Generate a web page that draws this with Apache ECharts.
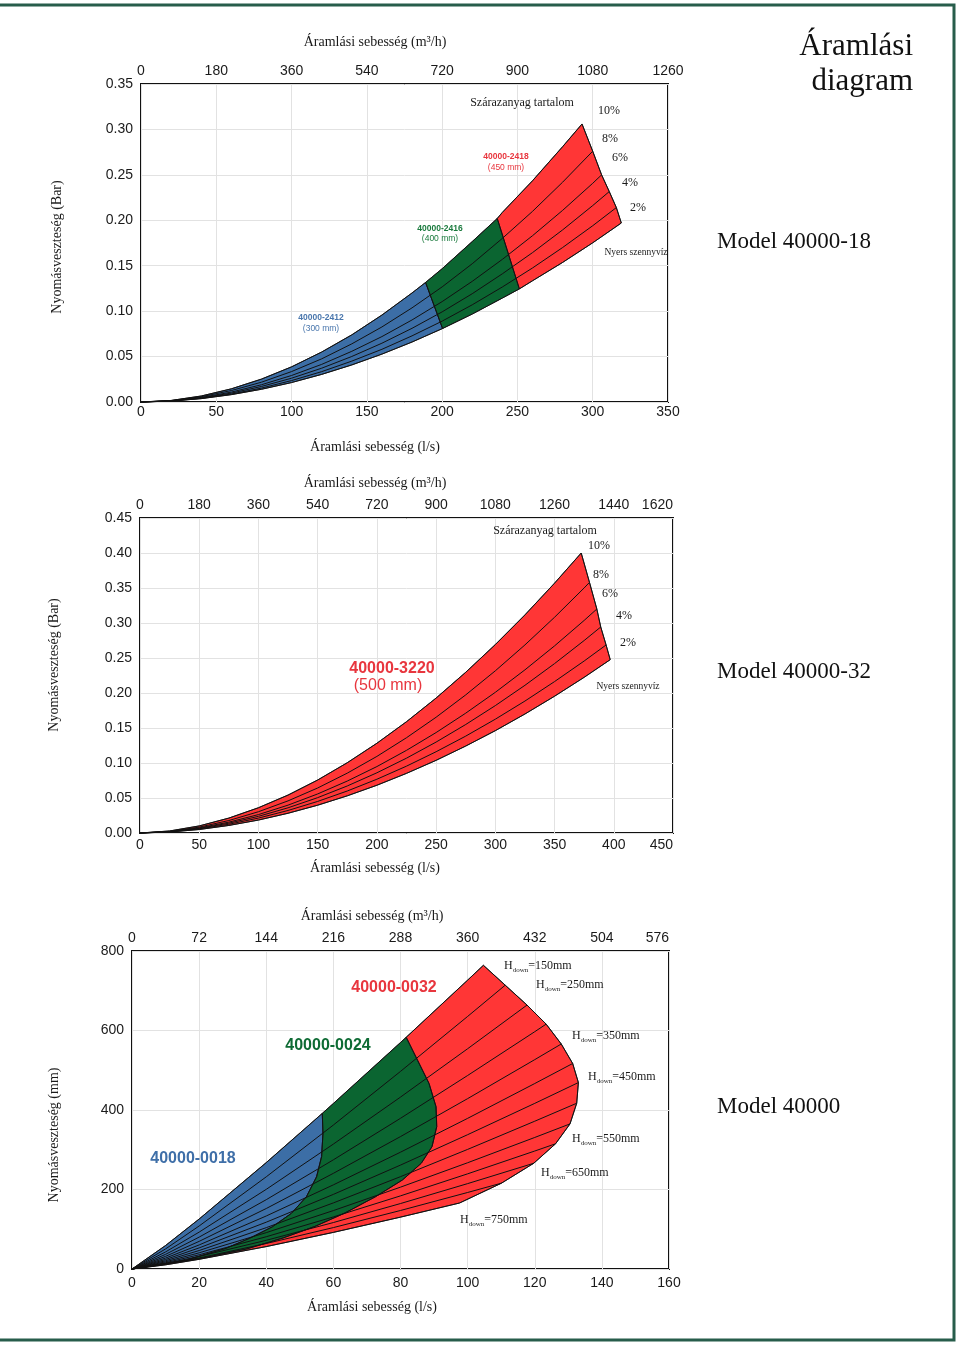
<!DOCTYPE html>
<html><head><meta charset="utf-8">
<script src="https://cdn.jsdelivr.net/npm/echarts@6/dist/echarts.min.js"></script>
<style>html,body{margin:0;padding:0;background:#fff}#c{width:960px;height:1345px}</style>
</head><body><div id="c"></div>
<script>
// ---------- Panel 1 : Model 40000-18 (x: l/s, y: bar) ----------
const p1Nyers = [[0,0],[20,0.0010],[40,0.0037],[60,0.0081],[80,0.0140],[100,0.0214],[120,0.0304],[140,0.0408],[160,0.0527],[180,0.0660],[200.3,0.0809],[220,0.0968],[240,0.1144],[251.3,0.1245],[260,0.1334],[280,0.1536],[300,0.1752],[319,0.197]];
const p1Pct2 = [[0,0],[20,0.0011],[40,0.0041],[60,0.0088],[80,0.0153],[100,0.0236],[120,0.0334],[140,0.0450],[160,0.0580],[180,0.0728],[200,0.0890],[220,0.1070],[240,0.1266],[260,0.1475],[280,0.1700],[300,0.1940],[315.7,0.214]];
const p1Pct4 = [[0,0],[20,0.0012],[40,0.0045],[60,0.0098],[80,0.0171],[100,0.0262],[120,0.0372],[140,0.0501],[160,0.0647],[180,0.0811],[200,0.0992],[220,0.1192],[240,0.1411],[260,0.1644],[280,0.1894],[300,0.2162],[311,0.2316]];
const p1Pct6 = [[0,0],[20,0.0013],[40,0.0050],[60,0.0109],[80,0.0190],[100,0.0292],[120,0.0414],[140,0.0558],[160,0.0720],[180,0.0903],[200,0.1105],[220,0.1328],[240,0.1570],[260,0.1830],[280,0.2109],[300,0.2407],[305.9,0.250]];
const p1Pct8 = [[0,0],[20,0.0015],[40,0.0058],[60,0.0126],[80,0.0218],[100,0.0335],[120,0.0475],[140,0.0640],[160,0.0826],[180,0.1036],[200,0.1267],[220,0.1522],[240,0.1801],[260,0.2098],[280,0.2419],[300,0.276]];
const p1Pct10 = [[0,0],[20,0.0017],[40,0.0066],[60,0.0145],[80,0.0252],[100,0.0387],[120,0.0550],[140,0.0739],[160,0.0957],[180,0.1200],[189,0.1316],[200,0.1467],[220,0.1766],[236.6,0.202],[240,0.2087],[260,0.2435],[280,0.2810],[292.9,0.306]];
const p1Split1 = [[189,0.1316],[200.3,0.0809]];   // 40000-2412 | 40000-2416
const p1Split2 = [[236.6,0.202],[251.3,0.1245]];  // 40000-2416 | 40000-2418

// ---------- Panel 2 : Model 40000-32 ----------
const p2Nyers = [[0,0],[25,0.0014],[50,0.0050],[75,0.0108],[100,0.0185],[125,0.0282],[150,0.0397],[175,0.0531],[200,0.0682],[225,0.0852],[250,0.1038],[275,0.1242],[300,0.1462],[325,0.1700],[350,0.1954],[375,0.2224],[397,0.2476]];
const p2Pct2 = [[0,0],[25,0.0016],[50,0.0059],[75,0.0125],[100,0.0213],[125,0.0322],[150,0.0451],[175,0.0600],[200,0.0768],[225,0.0955],[250,0.1161],[275,0.1384],[300,0.1626],[325,0.1885],[350,0.2163],[375,0.2457],[393.5,0.2686]];
const p2Pct4 = [[0,0],[25,0.0018],[50,0.0066],[75,0.0140],[100,0.0238],[125,0.0360],[150,0.0505],[175,0.0672],[200,0.0860],[225,0.1069],[250,0.1299],[275,0.1550],[300,0.1820],[325,0.2110],[350,0.2420],[375,0.2750],[389,0.2943]];
const p2Pct6 = [[0,0],[25,0.0020],[50,0.0073],[75,0.0155],[100,0.0263],[125,0.0398],[150,0.0558],[175,0.0742],[200,0.0949],[225,0.1181],[250,0.1435],[275,0.1712],[300,0.2010],[325,0.2331],[350,0.2673],[375,0.3037],[385.7,0.320]];
const p2Pct8 = [[0,0],[25,0.0023],[50,0.0084],[75,0.0178],[100,0.0304],[125,0.0459],[150,0.0643],[175,0.0855],[200,0.1094],[225,0.1361],[250,0.1654],[275,0.1973],[300,0.2317],[325,0.2687],[350,0.3082],[375,0.3501],[379.5,0.358]];
const p2Pct10 = [[0,0],[25,0.0029],[50,0.0101],[75,0.0213],[100,0.0361],[125,0.0542],[150,0.0757],[175,0.1004],[200,0.1282],[225,0.1590],[250,0.1928],[275,0.2296],[300,0.2692],[325,0.3116],[350,0.3569],[372.5,0.400]];

// ---------- Panel 3 : Model 40000 (x: l/s, y: mm) ----------
const p3H150 = [[0,0],[10,59.1],[20,125.7],[40,267.7],[56.7,391.5],[60,416.4],[80,569.8],[81.7,583],[100,726.7],[104.7,764]];
const p3H200 = [[0,0],[10,50.5],[20,108.2],[40,231.9],[60,362.2],[80,497.1],[100,635.4],[111.2,714]];
const p3H250 = [[0,0],[10,43.0],[20,92.8],[40,200.4],[60,314.3],[80,432.5],[100,554.1],[117.7,664]];
const p3H300 = [[0,0],[10,36.9],[20,80.2],[40,174.4],[60,274.7],[80,379.1],[100,486.8],[120,597.0],[123.4,616]];
const p3H350 = [[0,0],[10,31.8],[20,69.5],[40,152.2],[60,240.7],[80,333.1],[100,428.6],[120,526.7],[127.9,566]];
const p3H400 = [[0,0],[10,27.5],[20,60.5],[40,133.4],[60,211.7],[80,293.9],[100,379.0],[120,466.6],[131.3,517]];
const p3H450 = [[0,0],[10,23.9],[20,53.1],[40,117.8],[60,187.7],[80,261.4],[100,337.9],[120,416.7],[133.0,469]];
const p3H500 = [[0,0],[10,20.8],[20,46.5],[40,104.0],[60,166.3],[80,232.3],[100,300.9],[120,371.8],[132.5,417]];
const p3H550 = [[0,0],[10,18.1],[20,40.7],[40,91.5],[60,147.0],[80,205.9],[100,267.3],[120,330.9],[130.5,365]];
const p3H600 = [[0,0],[10,15.8],[20,35.8],[40,81.2],[60,131.0],[80,184.0],[100,239.4],[120,296.8],[126.2,315]];
const p3H650 = [[0,0],[10,13.9],[20,31.6],[40,72.2],[60,116.9],[80,164.7],[100,214.8],[119.7,266]];
const p3H700 = [[0,0],[10,12.1],[20,27.9],[40,64.1],[60,104.2],[80,147.2],[100,192.5],[110.1,216]];
const p3H750 = [[0,0],[10,10.5],[20,24.4],[40,56.4],[60,92.1],[80,130.5],[97.6,166]];
const p3Arc18 = [[56.7,391.5],[56.9,341],[56.5,283],[55,232],[52,182],[47.5,140],[41.8,106],[35,77],[28,52],[16,22],[0,0]];
const p3Arc24 = [[81.7,583],[85.1,525],[88.5,467],[90.6,408],[90.8,358],[89.4,308],[86.2,266],[80.6,224],[72.6,182],[63.5,141],[54.5,107],[45,78],[34,50],[20,26],[0,0]];

const hDownLabels = ['150','250','350','450','550','650','750'];

// ---------- helpers ----------
const BLUE = '#3c6ea6', GREEN = '#0b6531', RED = '#ff3636';
function region(top, bottom, leftEdge, rightEdge) {
  const xlT = leftEdge[0][0], xrT = rightEdge[0][0];
  const xlB = leftEdge[leftEdge.length - 1][0], xrB = rightEdge[rightEdge.length - 1][0];
  const pts = [leftEdge[0]];
  top.forEach(p => { if (p[0] > xlT && p[0] < xrT) pts.push(p); });
  rightEdge.forEach(p => pts.push(p));
  bottom.slice().reverse().forEach(p => { if (p[0] > xlB && p[0] < xrB) pts.push(p); });
  leftEdge.slice(1).reverse().forEach(p => pts.push(p));
  return pts;
}
const ends = curves => curves.map(c => c[c.length - 1]);
const O = [[0, 0]];

const p1Curves = [p1Pct10, p1Pct8, p1Pct6, p1Pct4, p1Pct2, p1Nyers];
const p1End = ends(p1Curves);
const p1Shapes = [
  {kind:'polygon', color:BLUE, pts:region(p1Pct10, p1Nyers, O, p1Split1)},
  {kind:'polygon', color:GREEN, pts:region(p1Pct10, p1Nyers, p1Split1, p1Split2)},
  {kind:'polygon', color:RED, pts:region(p1Pct10, p1Nyers, p1Split2, p1End)},
  ...p1Curves.map(c => ({kind:'polyline', pts:c})),
  {kind:'polyline', pts:p1Split1}, {kind:'polyline', pts:p1Split2}, {kind:'polyline', pts:p1End}
];

const p2Curves = [p2Pct10, p2Pct8, p2Pct6, p2Pct4, p2Pct2, p2Nyers];
const p2End = ends(p2Curves);
const p2Shapes = [
  {kind:'polygon', color:RED, pts:region(p2Pct10, p2Nyers, O, p2End)},
  ...p2Curves.map(c => ({kind:'polyline', pts:c})),
  {kind:'polyline', pts:p2End}
];

const p3Curves = [p3H150,p3H200,p3H250,p3H300,p3H350,p3H400,p3H450,p3H500,p3H550,p3H600,p3H650,p3H700,p3H750];
const p3End = ends(p3Curves);
const p3Shapes = [
  {kind:'polygon', color:BLUE, pts:region(p3H150, p3H750, O, p3Arc18)},
  {kind:'polygon', color:GREEN, pts:region(p3H150, p3H750, p3Arc18, p3Arc24)},
  {kind:'polygon', color:RED, pts:region(p3H150, p3H750, p3Arc24, p3End)},
  ...p3Curves.map(c => ({kind:'polyline', pts:c})),
  {kind:'polyline', pts:p3Arc18}, {kind:'polyline', pts:p3Arc24}, {kind:'polyline', pts:p3End}
];

function shapeSeries(gi, shapes) {
  return {
    type:'custom', coordinateSystem:'cartesian2d', xAxisIndex: gi * 2, yAxisIndex: gi,
    silent:true, animation:false, data: shapes.map(() => [0, 0]),
    renderItem: (params, api) => {
      const s = shapes[params.dataIndex];
      const pts = s.pts.map(p => api.coord(p));
      if (s.kind === 'polygon') return {type:'polygon', shape:{points:pts}, style:{fill:s.color, stroke:'#1d1d1d', lineWidth:0.8}};
      return {type:'polyline', shape:{points:pts}, style:{fill:'none', stroke:'#111', lineWidth:1}};
    }
  };
}

const SANS = 'Liberation Sans', SERIF = 'Liberation Serif';
const plain = v => String(v);
const lab = (extra) => Object.assign({fontFamily:SANS, fontSize:14, color:'#1a1a1a', formatter: plain}, extra);
function xAxes(gi, max, interval, topMax, topInt, alignBottom, alignTop, bMargin) {
  const b = {margin:bMargin};
  if (alignBottom) b.alignMaxLabel = 'right';
  const t = {margin:6};
  if (alignTop) t.alignMaxLabel = 'right';
  return [
    {type:'value', gridIndex:gi, position:'bottom', min:0, max:max, interval:interval,
     axisLine:{show:false}, axisTick:{show:false},
     splitLine:{show:true, lineStyle:{color:'#e2e2e2', width:1}},
     axisLabel:lab(b)},
    {type:'value', gridIndex:gi, position:'top', min:0, max:topMax, interval:topInt,
     axisLine:{show:false}, axisTick:{show:false}, splitLine:{show:false},
     axisLabel:lab(t)}
  ];
}
function yAxis(gi, max, interval, dec) {
  return {type:'value', gridIndex:gi, min:0, max:max, interval:interval,
    axisLine:{show:false}, axisTick:{show:false},
    splitLine:{show:true, lineStyle:{color:'#e2e2e2', width:1}},
    axisLabel:lab({margin:8, padding:[0,0,4,0], formatter: v => v.toFixed(dec)})};
}

function txt(x, y, text, font, fill, align, extra) {
  return {type:'text', x:x, y:y, silent:true, z:100,
    style:Object.assign({text:text, font:font, fill:fill, align:align || 'center', verticalAlign:'middle'}, extra || {})};
}
function vtxt(x, y, text) {
  return {type:'text', x:x, y:y, rotation:Math.PI/2, silent:true,
    style:{text:text, font:'14px ' + SERIF, fill:'#1a1a1a', align:'center', verticalAlign:'middle'}};
}
function hdown(x, y, v) {
  return {type:'text', x:x, y:y, silent:true, z:100,
    style:{text:'{h|H}{s|down}{t|=' + v + 'mm}', fill:'#1a1a1a', align:'left', verticalAlign:'middle',
      rich:{h:{font:'12px ' + SERIF, fill:'#1a1a1a'}, s:{font:'7px ' + SERIF, fill:'#1a1a1a', padding:[8,0,0,0]}, t:{font:'12px ' + SERIF, fill:'#1a1a1a'}}}};
}
const S12 = '12px ' + SERIF;
const BOLD9 = 'bold 8.5px ' + SANS, REG9 = '8.5px ' + SANS;
const hPos = [[504,966],[536,985],[572,1036],[588,1077],[572,1139],[541,1173],[460,1220]];

const graphics = [
  {type:'rect', silent:true, shape:{x:-5, y:5, width:959, height:1335}, style:{fill:'none', stroke:'#275d4b', lineWidth:3}},
  txt(913, 47, 'Áramlási', '31px ' + SERIF, '#111', 'right'),
  txt(913, 82, 'diagram', '31px ' + SERIF, '#111', 'right'),
  txt(717, 242, 'Model 40000-18', '23px ' + SERIF, '#111', 'left'),
  txt(717, 672, 'Model 40000-32', '23px ' + SERIF, '#111', 'left'),
  txt(717, 1107, 'Model 40000', '23px ' + SERIF, '#111', 'left'),
  // axis titles
  txt(375, 42, 'Áramlási sebesség (m³/h)', '14px ' + SERIF, '#1a1a1a'),
  txt(375, 447, 'Áramlási sebesség (l/s)', '14px ' + SERIF, '#1a1a1a'),
  txt(375, 483, 'Áramlási sebesség (m³/h)', '14px ' + SERIF, '#1a1a1a'),
  txt(375, 868, 'Áramlási sebesség (l/s)', '14px ' + SERIF, '#1a1a1a'),
  txt(372, 916, 'Áramlási sebesség (m³/h)', '14px ' + SERIF, '#1a1a1a'),
  txt(372, 1307, 'Áramlási sebesség (l/s)', '14px ' + SERIF, '#1a1a1a'),
  vtxt(57, 247, 'Nyomásveszteség (Bar)'),
  vtxt(54, 665, 'Nyomásveszteség (Bar)'),
  vtxt(54, 1135, 'Nyomásveszteség (mm)'),
  // panel 1 annotations
  txt(522, 103, 'Szárazanyag tartalom', S12, '#1a1a1a'),
  txt(609, 111, '10%', S12, '#1a1a1a'), txt(610, 139, '8%', S12, '#1a1a1a'),
  txt(620, 158, '6%', S12, '#1a1a1a'), txt(630, 183, '4%', S12, '#1a1a1a'),
  txt(638, 208, '2%', S12, '#1a1a1a'),
  txt(636, 252, 'Nyers szennyvíz', '9.5px ' + SERIF, '#1a1a1a'),
  txt(506, 157, '40000-2418', BOLD9, '#e8363e'), txt(506, 168, '(450 mm)', REG9, '#e8363e'),
  txt(440, 229, '40000-2416', BOLD9, '#1a7a3d'), txt(440, 239, '(400 mm)', REG9, '#1a7a3d'),
  txt(321, 318, '40000-2412', BOLD9, '#4a77ad'), txt(321, 329, '(300 mm)', REG9, '#4a77ad'),
  // panel 2 annotations
  txt(545, 531, 'Szárazanyag tartalom', S12, '#1a1a1a'),
  txt(599, 546, '10%', S12, '#1a1a1a'), txt(601, 575, '8%', S12, '#1a1a1a'),
  txt(610, 594, '6%', S12, '#1a1a1a'), txt(624, 616, '4%', S12, '#1a1a1a'),
  txt(628, 643, '2%', S12, '#1a1a1a'),
  txt(628, 686, 'Nyers szennyvíz', '9.5px ' + SERIF, '#1a1a1a'),
  txt(392, 669, '40000-3220', 'bold 16px ' + SANS, '#e8363e'),
  txt(388, 686, '(500 mm)', '16px ' + SANS, '#e8363e'),
  // panel 3 annotations
  txt(193, 1159, '40000-0018', 'bold 16px ' + SANS, '#3f6fa8'),
  txt(328, 1046, '40000-0024', 'bold 16px ' + SANS, '#0e6b34'),
  txt(394, 988, '40000-0032', 'bold 16px ' + SANS, '#e8363e'),
  ...hDownLabels.map((v, i) => hdown(hPos[i][0], hPos[i][1], v))
];

const chart = echarts.init(document.getElementById('c'), null, {renderer:'canvas'});
chart.setOption({
  animation:false,
  backgroundColor:'#ffffff',
  grid:[
    {left:141, top:84, width:527, height:318, show:true, borderColor:'#111', borderWidth:2, backgroundColor:'transparent'},
    {left:140, top:518, width:533, height:315, show:true, borderColor:'#111', borderWidth:2, backgroundColor:'transparent'},
    {left:132, top:951, width:537, height:318, show:true, borderColor:'#111', borderWidth:2, backgroundColor:'transparent'}
  ],
  xAxis:[
    ...xAxes(0, 350, 50, 1260, 180, false, false, 3),
    ...xAxes(1, 450, 50, 1620, 180, true, true, 5),
    ...xAxes(2, 160, 20, 576, 72, false, true, 7)
  ],
  yAxis:[ yAxis(0, 0.35, 0.05, 2), yAxis(1, 0.45, 0.05, 2), yAxis(2, 800, 200, 0) ],
  series:[ shapeSeries(0, p1Shapes), shapeSeries(1, p2Shapes), shapeSeries(2, p3Shapes) ],
  graphic: graphics
});
</script></body></html>
